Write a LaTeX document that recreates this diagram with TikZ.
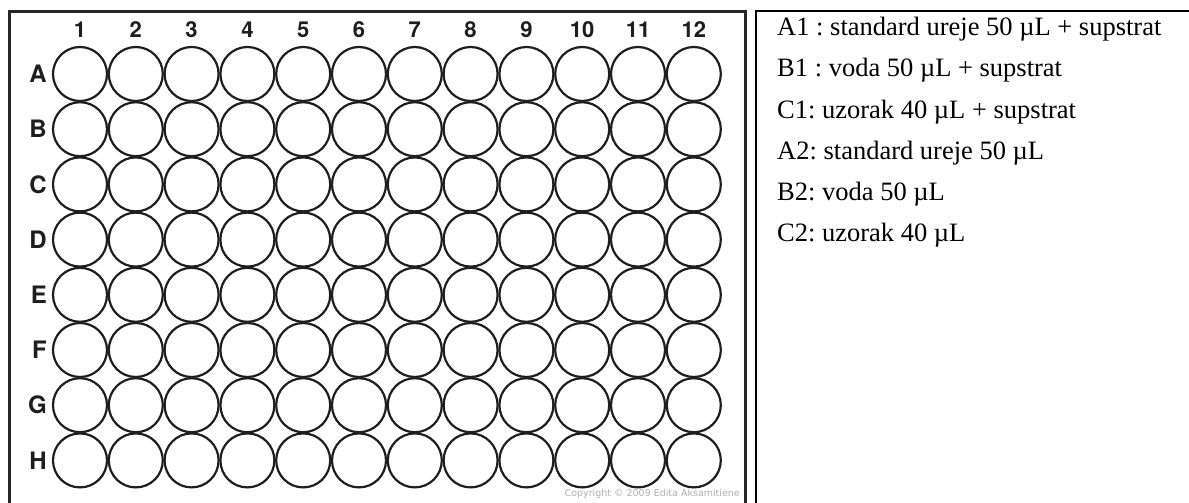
\documentclass[tikz,border=0pt]{standalone}
\usepackage{fontspec}
\setmainfont{Liberation Serif}
\newfontfamily\platefont{TeX Gyre Heros}
\newfontfamily\notefont{DejaVu Sans}
\definecolor{platedark}{HTML}{1E1E1E}
\definecolor{copygray}{HTML}{B0B0B0}
\frenchspacing

\begin{document}
\begin{tikzpicture}[x=1pt, y=-1pt,
    well/.style={circle, draw=platedark, line width=2.2pt, minimum size=54pt, inner sep=0pt},
    collabel/.style={font=\platefont\bfseries\fontsize{22}{22}\selectfont, text=platedark, inner sep=0pt},
    rowlabel/.style={font=\platefont\bfseries\fontsize{24}{24}\selectfont, text=platedark, inner sep=0pt},
    legend/.style={font=\fontsize{26.5}{26.5}\selectfont, anchor=base west, inner sep=0pt}]
        \useasboundingbox (0,0) rectangle (1189,503);
        \clip (0,0) rectangle (1189,503);

        % Draw frames
        \draw[line width=3pt, draw=black!85] (9,530) -- (9,12) -- (745,12) -- (745,530);
        \draw[line width=2pt] (756,530) -- (756,11) -- (1200,11);

        % Draw wells and row labels
        \foreach \r [count=\j] in {A,...,H} {
            \node[rowlabel, anchor=east] (row-\r) at (47, {74+55.2*(\j-1)}) {\r};
            \foreach \c in {1,...,12} {
                \node[well] (well-\r\c) at ({80+55.8*(\c-1)}, {74+55.2*(\j-1)}) {};
            }
        }

        % Draw column labels
        \foreach \c in {1,...,12} {
            \node[collabel] (col-\c) at ([yshift=16pt]well-A\c.north) {\c};
        }

        % Copyright
        \node[font=\notefont\fontsize{9.5}{9.5}\selectfont, text=copygray, anchor=south east, inner sep=0pt] (copy) at (740,499) {Copyright © 2009 Edita Aksamitiene};

        % Legend
        \node[legend] (a1) at (777,36) {A1 : standard ureje 50 µL + supstrat};
        \node[legend] (b1) at (777,77) {B1 : voda 50 µL + supstrat};
        \node[legend] (c1) at (777,118) {C1: uzorak 40 µL + supstrat};
        \node[legend] (a2) at (777,159) {A2: standard ureje 50 µL};
        \node[legend] (b2) at (777,200) {B2: voda 50 µL};
        \node[legend] (c2) at (777,241) {C2: uzorak 40 µL};
\end{tikzpicture}
\end{document}
